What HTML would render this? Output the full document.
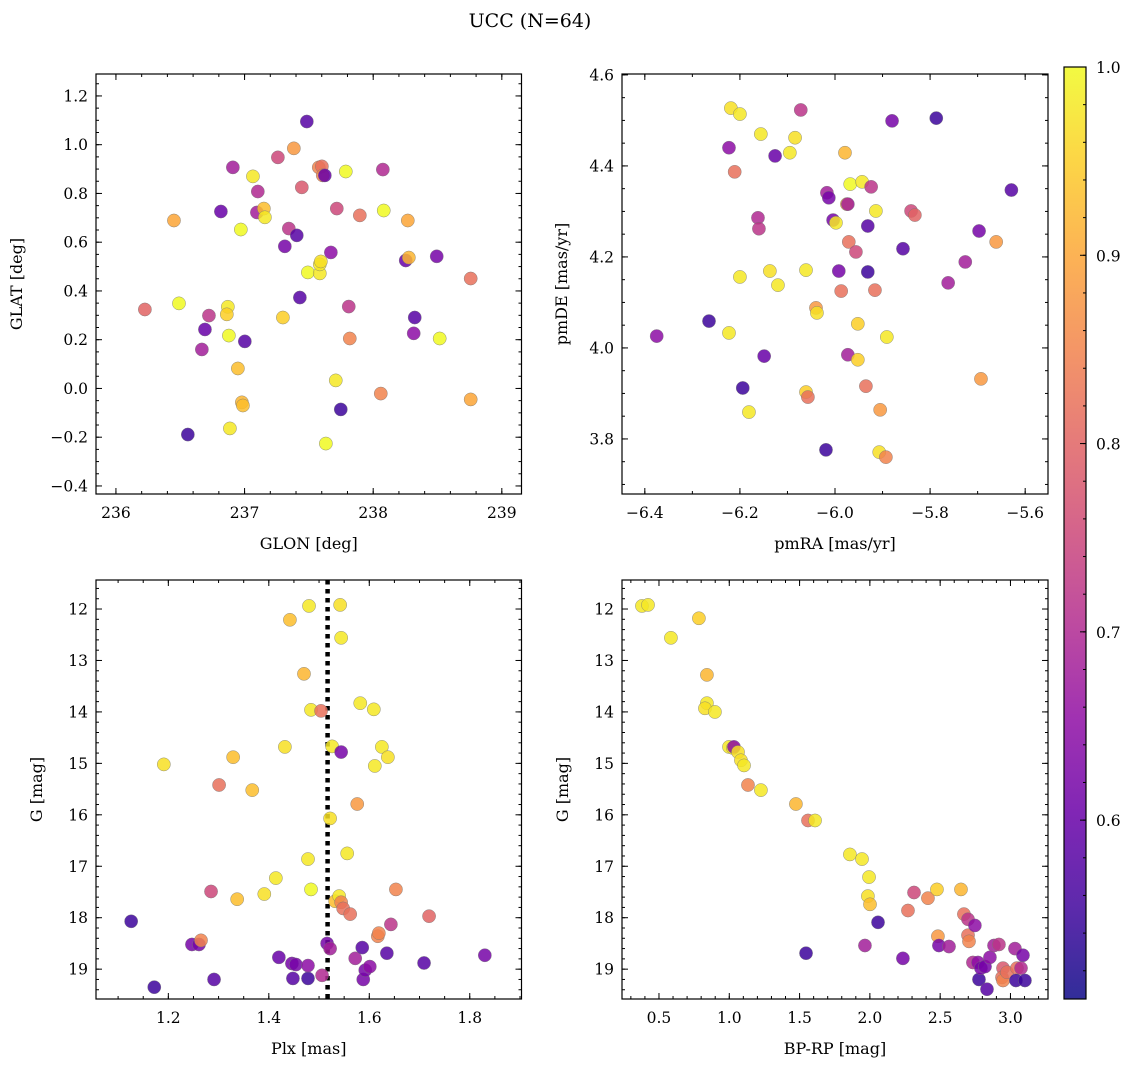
<!DOCTYPE html>
<html><head><meta charset="utf-8"><style>
html,body{margin:0;padding:0;background:#fff;}
svg{display:block;font-family:"DejaVu Serif","Liberation Serif",serif;}
</style></head><body>
<svg id="fig" width="1136" height="1067" xmlns="http://www.w3.org/2000/svg">
<text x="530" y="27" font-size="19" text-anchor="middle">UCC (N=64)</text>
</svg>
<script>
// ---- Panel 1 data: GLON / GLAT ----
const glon=[236.225,236.451,236.490,236.668,236.723,236.692,236.559,236.816,236.870,236.862,236.878,236.886,236.909,236.948,236.979,236.987,237.002,237.065,237.103,237.096,237.150,237.158,236.971,237.259,237.313,237.344,237.298,237.383,237.406,237.430,237.445,237.484,237.492,237.577,237.601,237.585,237.585,237.593,237.608,237.624,237.632,237.671,237.709,237.717,237.748,237.787,237.810,237.818,237.896,238.059,238.075,238.082,238.253,238.269,238.277,238.315,238.323,238.494,238.517,238.758,238.758];
const glat=[0.324,0.689,0.349,0.160,0.299,0.242,-0.189,0.726,0.335,0.304,0.217,-0.164,0.907,0.082,-0.057,-0.070,0.193,0.870,0.808,0.722,0.738,0.702,0.652,0.948,0.583,0.656,0.291,0.985,0.628,0.373,0.825,1.095,0.476,0.907,0.911,0.472,0.509,0.521,0.874,0.874,-0.226,0.558,0.033,0.738,-0.086,0.890,0.336,0.205,0.710,-0.021,0.898,0.730,0.525,0.689,0.537,0.226,0.291,0.542,0.205,0.451,-0.045];
const prob1=[0.8,0.9,1.0,0.68,0.72,0.6,0.55,0.6,0.98,0.95,1.0,0.98,0.68,0.93,0.92,0.93,0.58,0.98,0.7,0.68,0.93,0.98,1.0,0.75,0.62,0.72,0.95,0.88,0.58,0.58,0.78,0.58,1.0,0.85,0.82,0.98,0.98,0.97,0.85,0.6,1.0,0.65,0.98,0.75,0.55,1.0,0.72,0.85,0.82,0.85,0.7,1.0,0.6,0.9,0.92,0.65,0.58,0.62,1.0,0.82,0.9];
// ---- Panel 2 data: pmRA / pmDE ----
const pmra=[-6.375,-6.265,-6.223,-6.219,-6.223,-6.211,-6.200,-6.200,-6.194,-6.181,-6.156,-6.162,-6.160,-6.149,-6.137,-6.126,-6.120,-6.095,-6.084,-6.072,-6.061,-6.061,-6.057,-6.040,-6.038,-6.019,-6.017,-6.013,-6.004,-5.998,-5.992,-5.987,-5.979,-5.975,-5.973,-5.973,-5.971,-5.968,-5.956,-5.952,-5.952,-5.943,-5.935,-5.931,-5.931,-5.924,-5.916,-5.914,-5.907,-5.905,-5.893,-5.891,-5.880,-5.857,-5.840,-5.832,-5.762,-5.726,-5.697,-5.693,-5.661,-5.629,-5.787];
const pmde=[4.026,4.059,4.033,4.527,4.440,4.387,4.514,4.156,3.912,3.859,4.470,4.286,4.262,3.982,4.169,4.422,4.138,4.429,4.462,4.523,4.171,3.903,3.892,4.088,4.077,3.776,4.341,4.330,4.281,4.275,4.169,4.125,4.429,4.316,4.316,3.985,4.233,4.360,4.211,4.053,3.974,4.365,3.916,4.268,4.167,4.354,4.127,4.301,3.771,3.864,3.760,4.024,4.499,4.218,4.301,4.292,4.143,4.189,4.257,3.932,4.233,4.347,4.505];
const prob2=[0.65,0.55,0.98,0.97,0.65,0.82,0.98,0.98,0.55,0.98,0.98,0.7,0.72,0.6,0.97,0.6,0.98,0.98,0.97,0.72,0.98,0.95,0.82,0.88,0.97,0.55,0.68,0.62,0.62,0.98,0.62,0.82,0.92,0.9,0.68,0.68,0.82,1.0,0.75,0.95,0.95,0.98,0.82,0.58,0.55,0.72,0.82,0.98,0.97,0.88,0.85,0.98,0.62,0.58,0.75,0.8,0.68,0.68,0.62,0.88,0.88,0.58,0.55];
// ---- Panel 3 data: Plx / G ----
const plx=[1.126,1.172,1.191,1.247,1.261,1.265,1.285,1.291,1.301,1.329,1.337,1.367,1.391,1.414,1.420,1.432,1.442,1.446,1.448,1.454,1.470,1.478,1.478,1.478,1.480,1.484,1.484,1.504,1.506,1.516,1.522,1.522,1.526,1.532,1.540,1.542,1.544,1.544,1.544,1.548,1.556,1.562,1.572,1.576,1.582,1.586,1.588,1.592,1.601,1.609,1.611,1.617,1.619,1.625,1.635,1.637,1.643,1.653,1.719,1.709,1.830];
const gmag3=[18.07,19.35,15.02,18.52,18.52,18.44,17.49,19.20,15.42,14.88,17.64,15.52,17.54,17.23,18.77,14.68,12.21,18.89,19.18,18.91,13.26,19.18,18.93,16.86,11.94,17.45,13.96,13.98,19.12,18.50,18.60,16.07,14.67,17.68,17.58,11.92,12.56,14.78,17.70,17.82,16.75,17.93,18.79,15.79,13.83,18.58,19.20,19.02,18.95,13.95,15.05,18.36,18.30,14.68,18.69,14.88,18.13,17.45,17.97,18.88,18.73];
const prob3=[0.55,0.55,0.97,0.62,0.62,0.85,0.75,0.58,0.82,0.93,0.93,0.93,0.97,0.98,0.6,0.97,0.93,0.62,0.58,0.62,0.92,0.55,0.65,0.98,0.98,1.0,0.98,0.82,0.7,0.62,0.68,0.97,0.98,0.93,0.98,0.97,0.98,0.62,0.85,0.82,0.98,0.82,0.68,0.88,0.98,0.58,0.62,0.62,0.65,0.98,0.98,0.85,0.85,0.98,0.58,0.97,0.72,0.85,0.8,0.58,0.62];
const plxLine=1.517;
// ---- Panel 4 data: BP-RP / G ----
const bprp=[0.379,0.422,0.585,0.784,0.841,0.841,0.827,0.898,0.998,1.026,1.033,1.062,1.083,1.105,1.133,1.225,1.474,1.560,1.610,1.546,1.858,1.944,1.994,1.986,2.001,2.058,1.965,2.235,2.314,2.271,2.413,2.477,2.484,2.491,2.563,2.648,2.669,2.698,2.705,2.698,2.747,2.733,2.769,2.776,2.790,2.819,2.833,2.854,2.883,2.918,2.947,2.940,2.947,2.975,3.032,3.046,3.039,3.075,3.089,3.103];
const gmag4=[11.94,11.92,12.56,12.18,13.28,13.83,13.93,14.00,14.68,14.70,14.68,14.78,14.94,15.04,15.42,15.52,15.79,16.11,16.11,18.69,16.77,16.86,17.21,17.58,17.74,18.09,18.54,18.79,17.51,17.86,17.62,17.45,18.36,18.54,18.56,17.45,17.93,18.34,18.46,18.03,18.15,18.87,18.87,19.20,18.98,18.95,19.39,18.77,18.54,18.52,18.98,19.16,19.22,19.06,18.60,18.98,19.22,18.98,18.73,19.22];
const prob4=[0.98,0.98,0.98,0.95,0.92,0.98,0.97,0.98,0.98,0.97,0.65,0.97,0.97,0.98,0.85,0.98,0.92,0.82,0.98,0.55,0.98,0.98,0.98,0.97,0.93,0.55,0.68,0.62,0.75,0.82,0.85,0.95,0.88,0.62,0.68,0.92,0.82,0.82,0.85,0.72,0.65,0.7,0.65,0.55,0.62,0.62,0.58,0.65,0.68,0.72,0.78,0.82,0.85,0.82,0.68,0.82,0.55,0.7,0.62,0.55];
// ---- Colorbar ----
const cbTicks=[0.6,0.7,0.8,0.9,1.0];
const cbMin=0.505, cbMax=1.0;

const NS="http://www.w3.org/2000/svg";
const svg=document.getElementById('fig');
function mk(tag,attrs,parent){const e=document.createElementNS(NS,tag);for(const k in attrs)e.setAttribute(k,attrs[k]);(parent||svg).appendChild(e);return e;}
const stops=[[13,8,135],[65,4,157],[106,0,168],[143,13,164],[177,42,144],[204,71,120],[225,100,98],[242,132,75],[252,166,54],[252,206,37],[240,249,33]];
function plasma(t){t=Math.max(0,Math.min(1,t))*10;const i=Math.min(9,Math.floor(t)),f=t-i;const a=stops[i],b=stops[i+1];return `rgb(${a.map((v,k)=>Math.round(v+(b[k]-v)*f)).join(',')})`;}
function cmap(p){return plasma((p-cbMin)/(cbMax-cbMin));}

function panel(o){
  const g=mk('g',{});
  
  
  const X=v=>o.x0+(v-o.xr[0])/(o.xr[1]-o.xr[0])*(o.x1-o.x0);
  const Y=v=>o.inv? o.y0+(v-o.yr[0])/(o.yr[1]-o.yr[0])*(o.y1-o.y0) : o.y1-(v-o.yr[0])/(o.yr[1]-o.yr[0])*(o.y1-o.y0);
  // ticks
  const tg=mk('g',{stroke:'#000','stroke-width':1},g);
  function ticks(vals,len,isX,labels){
    vals.forEach(v=>{
      if(isX){const x=X(v);if(x<o.x0-0.5||x>o.x1+0.5)return;
        mk('line',{x1:x,x2:x,y1:o.y1,y2:o.y1-len},tg);mk('line',{x1:x,x2:x,y1:o.y0,y2:o.y0+len},tg);
        if(labels){const t=mk('text',{x:x,y:o.y1+24,'font-size':15.5,'text-anchor':'middle',stroke:'none'},g);t.textContent=labels(v);}
      } else {const y=Y(v);if(y<o.y0-0.5||y>o.y1+0.5)return;
        mk('line',{x1:o.x0,x2:o.x0+len,y1:y,y2:y},tg);mk('line',{x1:o.x1,x2:o.x1-len,y1:y,y2:y},tg);
        if(labels){const t=mk('text',{x:o.x0-8,y:y+5.5,'font-size':15.5,'text-anchor':'end',stroke:'none'},g);t.textContent=labels(v);}
      }});
  }
  const rng=(a,b,s)=>{const r=[];for(let v=a;v<=b+1e-9;v+=s)r.push(+v.toFixed(6));return r;};
  ticks(rng(o.xt[0],o.xt[1],o.xt[2]),6,true,v=>o.xf(v));
  ticks(rng(o.xm[0],o.xm[1],o.xm[2]),3,true,null);
  ticks(rng(o.yt[0],o.yt[1],o.yt[2]),6,false,v=>o.yf(v));
  ticks(rng(o.ym[0],o.ym[1],o.ym[2]),3,false,null);
  if(o.extra)o.extra(g,X,Y);
  // points
  o.xs.forEach((xv,i)=>{
    const c=mk('circle',{cx:X(xv),cy:Y(o.ys[i]),r:6.6,fill:cmap(o.ps[i]),'fill-opacity':0.85,stroke:'#777','stroke-width':0.5,'stroke-opacity':0.8},g);
    
    
  });
  const fr=mk('rect',{x:o.x0,y:o.y0,width:o.x1-o.x0,height:o.y1-o.y0,fill:'none',stroke:'#000','stroke-width':1.2},g);
  
  const xl=mk('text',{x:(o.x0+o.x1)/2,y:o.y1+55,'font-size':16,'text-anchor':'middle'},g);xl.textContent=o.xlab;
  
  const yl=mk('text',{x:o.ylx,y:(o.y0+o.y1)/2,'font-size':16,'text-anchor':'middle',transform:`rotate(-90 ${o.ylx} ${(o.y0+o.y1)/2})`},g);yl.textContent=o.ylab;
  
}
const f0=v=>String(Math.round(v)), f1=v=>(v<0?'\u2212':'')+Math.abs(v).toFixed(1);
panel({name:'glon-glat-panel',x0:96,x1:521.5,y0:74,y1:494,xr:[235.845,239.153],yr:[-0.433,1.29],
  xt:[236,239,1],xm:[235.8,239.2,0.2],yt:[-0.4,1.2,0.2],ym:[-0.4,1.25,0.05],xf:f0,yf:f1,
  xs:glon,ys:glat,ps:prob1,xlab:'GLON [deg]',ylab:'GLAT [deg]',ylx:22});
panel({name:'pmra-pmde-panel',x0:622,x1:1048,y0:74,y1:494,xr:[-6.448,-5.552],yr:[3.679,4.602],
  xt:[-6.4,-5.6,0.2],xm:[-6.4,-5.6,0.1],yt:[3.8,4.6,0.2],ym:[3.7,4.6,0.05],xf:f1,yf:f1,
  xs:pmra,ys:pmde,ps:prob2,xlab:'pmRA [mas/yr]',ylab:'pmDE [mas/yr]',ylx:567});
panel({name:'plx-g-panel',x0:96,x1:521.5,y0:580,y1:999,xr:[1.056,1.903],yr:[11.436,19.58],inv:true,
  xt:[1.2,1.8,0.2],xm:[1.1,1.9,0.05],yt:[12,19,1],ym:[11.6,19.6,0.2],xf:f1,yf:f0,
  xs:plx,ys:gmag3,ps:prob3,xlab:'Plx [mas]',ylab:'G [mag]',ylx:42,
  extra:(g,X,Y)=>{const l=mk('line',{x1:X(plxLine),x2:X(plxLine),y1:580,y2:999,stroke:'#000','stroke-width':4.5,'stroke-dasharray':'4.5 4.5'},g);
    }});
panel({name:'bprp-g-panel',x0:622,x1:1048,y0:580,y1:999,xr:[0.237,3.267],yr:[11.436,19.58],inv:true,
  xt:[0.5,3.0,0.5],xm:[0.3,3.2,0.1],yt:[12,19,1],ym:[11.6,19.6,0.2],xf:f1,yf:f0,
  xs:bprp,ys:gmag4,ps:prob4,xlab:'BP-RP [mag]',ylab:'G [mag]',ylx:568});

// colorbar
const cb=mk('g',{});


const cx0=1064,cx1=1086,cy0=67,cy1=999;
const CY=v=>cy1-(v-cbMin)/(cbMax-cbMin)*(cy1-cy0);
const defs=mk('defs',{},cb);const lg=mk('linearGradient',{id:'cbg',x1:0,y1:1,x2:0,y2:0},defs);
for(let i=0;i<=20;i++){mk('stop',{offset:i/20,'stop-color':plasma(i/20),'stop-opacity':0.85},lg);}
mk('rect',{x:cx0,y:cy0,width:cx1-cx0,height:cy1-cy0,fill:'url(#cbg)',stroke:'#000','stroke-width':1.2},cb);
for(let v=0.52;v<=1.0001;v+=0.02){const y=CY(v);mk('line',{x1:cx1,x2:cx1-3,y1:y,y2:y,stroke:'#000','stroke-width':1},cb);}
cbTicks.forEach(v=>{const y=CY(v);mk('line',{x1:cx1,x2:cx1-6,y1:y,y2:y,stroke:'#000','stroke-width':1},cb);
  const t=mk('text',{x:cx1+10,y:y+6,'font-size':15.5},cb);t.textContent=v.toFixed(1);
  });
</script>
</body></html>
